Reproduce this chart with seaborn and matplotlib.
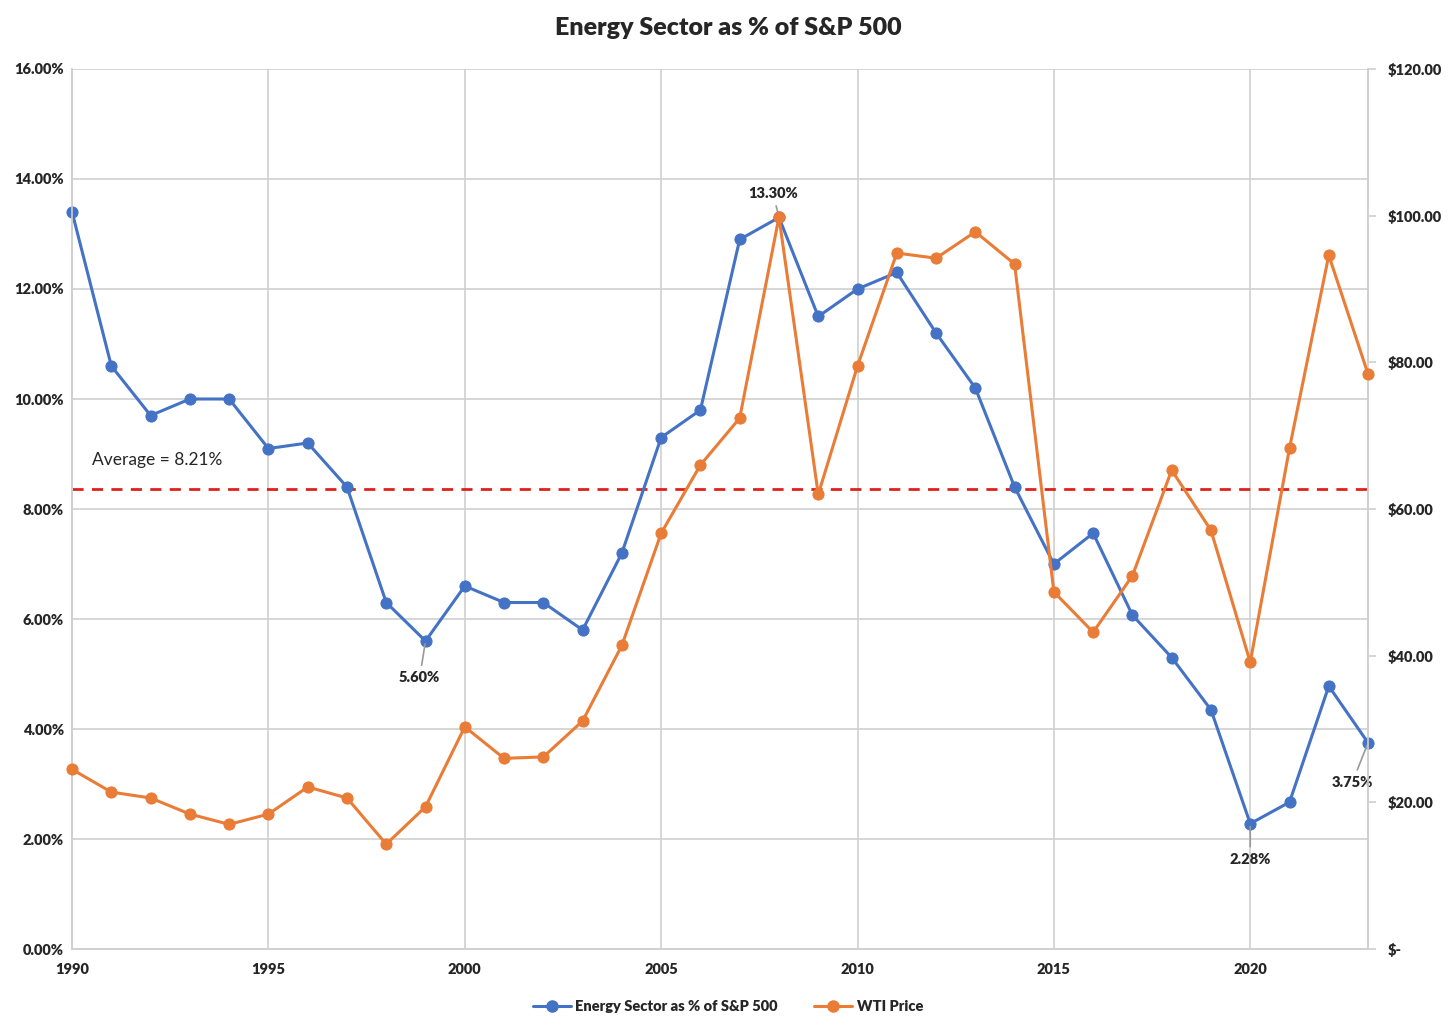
import matplotlib
matplotlib.use("Agg")
import matplotlib.pyplot as plt
import matplotlib.ticker as mticker
from matplotlib.lines import Line2D
import seaborn as sns
import pandas as pd

years = list(range(1990, 2024))
energy_pct = [13.4, 10.6, 9.7, 10.0, 10.0, 9.1, 9.2, 8.4, 6.3, 5.6,
              6.6, 6.3, 6.3, 5.8, 7.2, 9.3, 9.8, 12.9, 13.3, 11.5,
              12.0, 12.3, 11.2, 10.2, 8.4, 7.0, 7.56, 6.07, 5.3, 4.35,
              2.28, 2.67, 4.78, 3.75]
wti_price = [24.5, 21.4, 20.6, 18.4, 17.0, 18.4, 22.1, 20.6, 14.3, 19.4,
             30.3, 26.0, 26.2, 31.1, 41.4, 56.7, 66.0, 72.4, 99.8, 62.0,
             79.5, 94.9, 94.2, 97.8, 93.4, 48.7, 43.2, 50.9, 65.3, 57.1,
             39.1, 68.3, 94.6, 78.4]
average_line = 8.37
average_label = "Average = 8.21%"
title = "Energy Sector as % of S&P 500"
series_names = ["Energy Sector as % of S&P 500", "WTI Price"]

df = pd.DataFrame({"year": years, "energy": energy_pct, "wti": wti_price})

sns.set_theme(style="white")
plt.rcParams["font.family"] = ["Lato", "DejaVu Sans"]

BLUE = "#4472C4"
ORANGE = "#E97C36"
GRID = "#D0D0D0"

fig = plt.figure(figsize=(14.56, 10.28), dpi=100)
ax = fig.add_axes([0.0495, 0.0768, 0.8901, 0.8561])
ax2 = ax.twinx()

ax.axhline(average_line, color="#E0201B", lw=2.0, ls=(0, (4, 3)), zorder=2)

sns.lineplot(data=df, x="year", y="energy", ax=ax, color=BLUE, lw=2.2,
             marker="o", markersize=8, markeredgecolor=BLUE, zorder=3, clip_on=False)
sns.lineplot(data=df, x="year", y="wti", ax=ax2, color=ORANGE, lw=2.2,
             marker="o", markersize=8, markeredgecolor=ORANGE, zorder=3, clip_on=False)

ax.set_xlim(1990, 2023)
ax.set_ylim(0, 16)
ax2.set_ylim(0, 120)
ax.set_xticks(range(1990, 2021, 5))
ax.set_yticks([0, 2, 4, 6, 8, 10, 12, 14, 16])
ax.yaxis.set_major_formatter(mticker.FuncFormatter(lambda v, p: f"{v:.2f}%"))
ax2.set_yticks(range(0, 121, 20))
ax2.yaxis.set_major_formatter(mticker.FuncFormatter(
    lambda v, p: "$-" if v == 0 else f"${v:.2f}"))

ax.grid(True, color=GRID, lw=1.2)
ax.set_axisbelow(True)
for a in (ax, ax2):
    a.set_xlabel("")
    a.set_ylabel("")
    for s in a.spines.values():
        s.set_color(GRID)
        s.set_linewidth(1.2)
    a.spines["top"].set_visible(False)

ax.tick_params(axis="both", length=0, labelsize=10.5, pad=6)
ax2.tick_params(axis="y", length=6, color=GRID, labelsize=10.5, pad=8, direction="out")
for lab in ax.get_xticklabels() + ax.get_yticklabels() + ax2.get_yticklabels():
    lab.set_fontweight("heavy")
ax.tick_params(axis="x", pad=10)

ax.text(1990.5, 8.75, average_label, fontsize=12.5, ha="left", va="bottom")

ann = dict(fontsize=10.5, fontweight="heavy", ha="center",
           arrowprops=dict(arrowstyle="-", color="#999999", lw=1.2))
ax.annotate("13.30%", xy=(2008, 13.3), xytext=(2007.85, 13.62), va="bottom", **ann)
ax.annotate("5.60%", xy=(1999, 5.6), xytext=(1998.85, 5.05), va="top", **ann)
ax.annotate("2.28%", xy=(2020, 2.28), xytext=(2020, 1.75), va="top", **ann)
ax.annotate("3.75%", xy=(2023, 3.75), xytext=(2022.6, 3.15), va="top", **ann)

fig.suptitle(title, fontsize=18, fontweight="heavy", y=0.983)

handles = [Line2D([0], [0], color=BLUE, lw=2.2, marker="o", markersize=8),
           Line2D([0], [0], color=ORANGE, lw=2.2, marker="o", markersize=8)]
leg = fig.legend(handles, series_names, loc="center", bbox_to_anchor=(0.5, 0.021),
                 ncol=2, frameon=False, fontsize=10.5, handlelength=2.6,
                 columnspacing=2.5, handletextpad=0.3)
for t in leg.get_texts():
    t.set_fontweight("heavy")

fig.savefig("out.png", dpi=100)
